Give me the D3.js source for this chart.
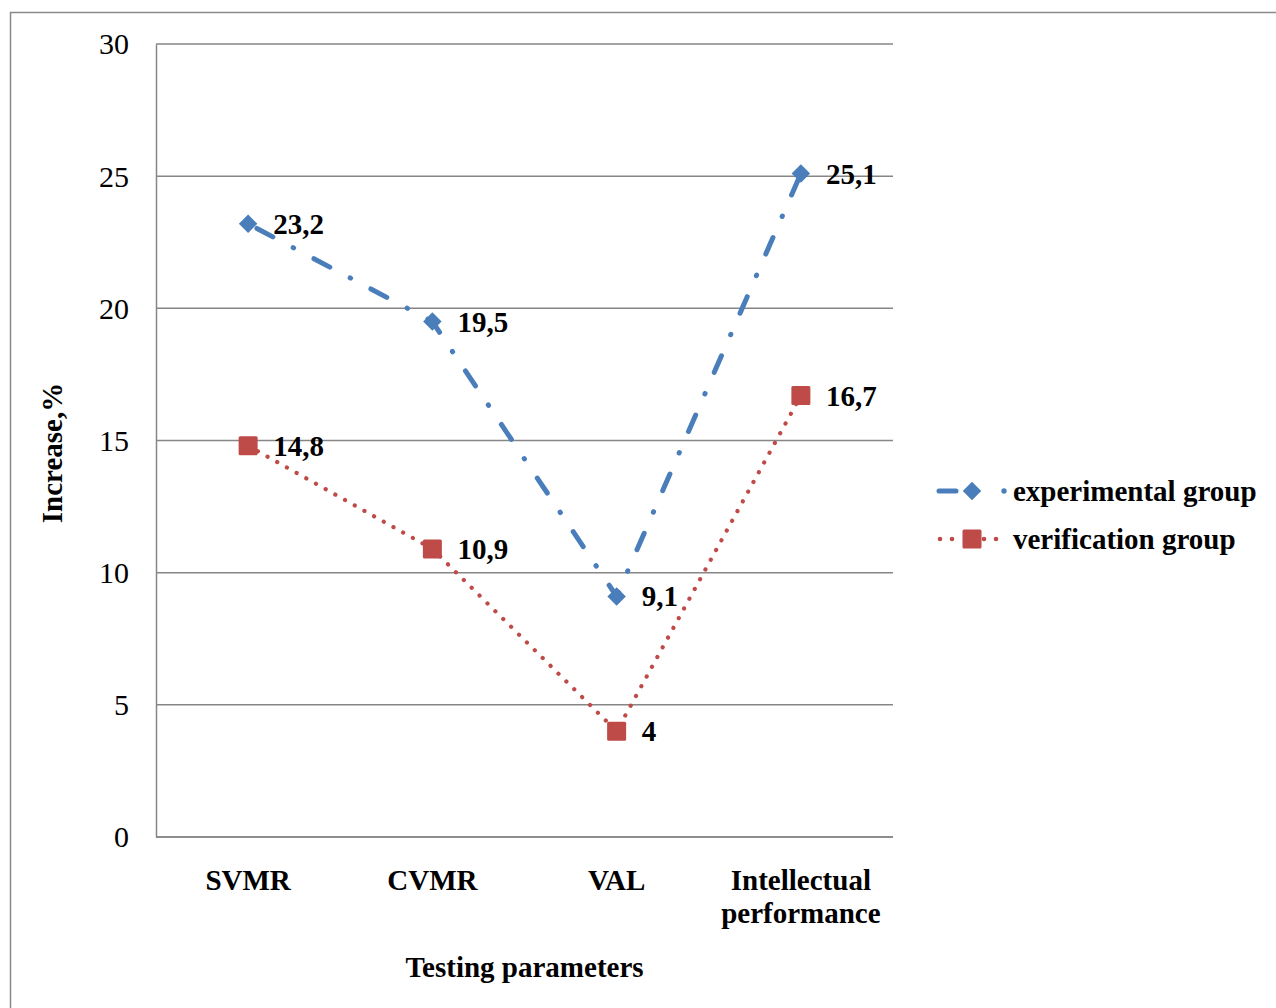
<!DOCTYPE html>
<html>
<head>
<meta charset="utf-8">
<script src="https://cdn.jsdelivr.net/npm/d3@7"></script>
<style>
  html, body { margin: 0; padding: 0; background: #fff; }
  svg { display: block; }
  text { font-family: "Liberation Serif", "Times New Roman", serif; }
</style>
</head>
<body>
<svg id="chart" width="1276" height="1008"></svg>
<script>
const categories = ["SVMR", "CVMR", "VAL", "Intellectual performance"];
const experimental = [23.2, 19.5, 9.1, 25.1];
const verification = [14.8, 10.9, 4, 16.7];
const yTicks = [0, 5, 10, 15, 20, 25, 30];
const seriesNames = ["experimental group", "verification group"];

const svg = d3.select("#chart");
const W = 1276, H = 1008;
const m = { left: 156, right: 893, top: 44, bottom: 837 };
const blue = "#4A7EBB", red = "#BE4B48";
const fs = 29;

// outer border
svg.append("rect").attr("x", 10.5).attr("y", 12.5).attr("width", W + 20).attr("height", H + 20)
  .attr("fill", "none").attr("stroke", "#8a8a8a").attr("stroke-width", 1.5);

const x = d3.scalePoint().domain(categories).range([m.left, m.right]).padding(0.5);
const y = d3.scaleLinear().domain([0, 30]).range([m.bottom, m.top]);

// gridlines
svg.append("g").selectAll("line").data(yTicks).join("line")
  .attr("x1", m.left).attr("x2", m.right)
  .attr("y1", d => y(d)).attr("y2", d => y(d))
  .attr("stroke", "#868686").attr("stroke-width", 1.5);

// y axis
const yAxis = svg.append("g").attr("transform", `translate(${m.left},0)`)
  .call(d3.axisLeft(y).tickValues(yTicks).tickSize(0).tickPadding(27));
yAxis.select(".domain").attr("stroke", "#868686").attr("stroke-width", 1.5);
yAxis.selectAll("text").attr("font-size", 30).attr("font-family", "Liberation Serif").attr("fill", "#000")
  .attr("dy", "0.33em");

// x axis
const xAxis = svg.append("g").attr("transform", `translate(0,${m.bottom})`)
  .call(d3.axisBottom(x).tickSize(0).tickFormat(""));
xAxis.select(".domain").attr("stroke", "#868686").attr("stroke-width", 1.5).attr("d", `M${m.left},0H${m.right}`);

const catLabels = svg.append("g");
categories.forEach(c => {
  const words = c === "Intellectual performance" ? ["Intellectual", "performance"] : [c];
  const t = catLabels.append("text").attr("x", x(c)).attr("y", 890)
    .attr("text-anchor", "middle").attr("font-size", fs).attr("font-weight", "bold");
  words.forEach((w, i) => {
    t.append("tspan").attr("x", x(c)).attr("dy", i === 0 ? 0 : 33).text(w);
  });
});

// axis titles
svg.append("text").attr("x", (m.left + m.right) / 2).attr("y", 977)
  .attr("text-anchor", "middle").attr("font-size", fs).attr("font-weight", "bold")
  .text("Testing parameters");
svg.append("text").attr("transform", `translate(62,453) rotate(-90)`)
  .attr("text-anchor", "middle").attr("font-size", fs).attr("font-weight", "bold")
  .text("Increase,%");

const line = d3.line().x((d, i) => x(categories[i])).y(d => y(d));

// experimental series
svg.append("path").datum(experimental).attr("d", line)
  .attr("fill", "none").attr("stroke", blue).attr("stroke-width", 5)
  .attr("stroke-linecap", "round").attr("stroke-dasharray", "18,23,0.5,23")
  .attr("stroke-dashoffset", -10);
// verification series
svg.append("path").datum(verification).attr("d", line)
  .attr("fill", "none").attr("stroke", red).attr("stroke-width", 4.2)
  .attr("stroke-linecap", "round").attr("stroke-dasharray", "0.1,11");

svg.append("g").selectAll("path").data(experimental).join("path")
  .attr("d", d3.symbol().type(d3.symbolSquare).size(170))
  .attr("transform", (d, i) => `translate(${x(categories[i])},${y(d)}) rotate(45)`)
  .attr("fill", blue);
svg.append("g").selectAll("rect").data(verification).join("rect")
  .attr("x", (d, i) => x(categories[i]) - 9.5).attr("y", d => y(d) - 9.5)
  .attr("width", 19).attr("height", 19).attr("rx", 1.5).attr("fill", red);

// data labels
const fmt = v => String(v).replace(".", ",");
[experimental, verification].forEach(s => {
  svg.append("g").selectAll("text").data(s).join("text")
    .attr("x", (d, i) => x(categories[i]) + 25).attr("y", d => y(d) + 10)
    .attr("font-size", fs).attr("font-weight", "bold").attr("fill", "#000")
    .text(fmt);
});

// legend
const lg = svg.append("g");
lg.append("line").attr("x1", 939).attr("x2", 956).attr("y1", 491).attr("y2", 491)
  .attr("stroke", blue).attr("stroke-width", 5).attr("stroke-linecap", "round");
lg.append("circle").attr("cx", 1004).attr("cy", 491).attr("r", 2.7).attr("fill", blue);
lg.append("path").attr("d", d3.symbol().type(d3.symbolSquare).size(170))
  .attr("transform", "translate(972,491) rotate(45)").attr("fill", blue);
lg.append("text").attr("x", 1013).attr("y", 501).attr("font-size", fs).attr("font-weight", "bold").text(seriesNames[0]);
[940, 952, 984, 996].forEach(cx => lg.append("circle").attr("cx", cx).attr("cy", 539).attr("r", 2.3).attr("fill", red));
lg.append("rect").attr("x", 962.5).attr("y", 529.5).attr("width", 19).attr("height", 19).attr("rx", 1.5).attr("fill", red);
lg.append("text").attr("x", 1013).attr("y", 549).attr("font-size", fs).attr("font-weight", "bold").text(seriesNames[1]);
</script>
</body>
</html>
